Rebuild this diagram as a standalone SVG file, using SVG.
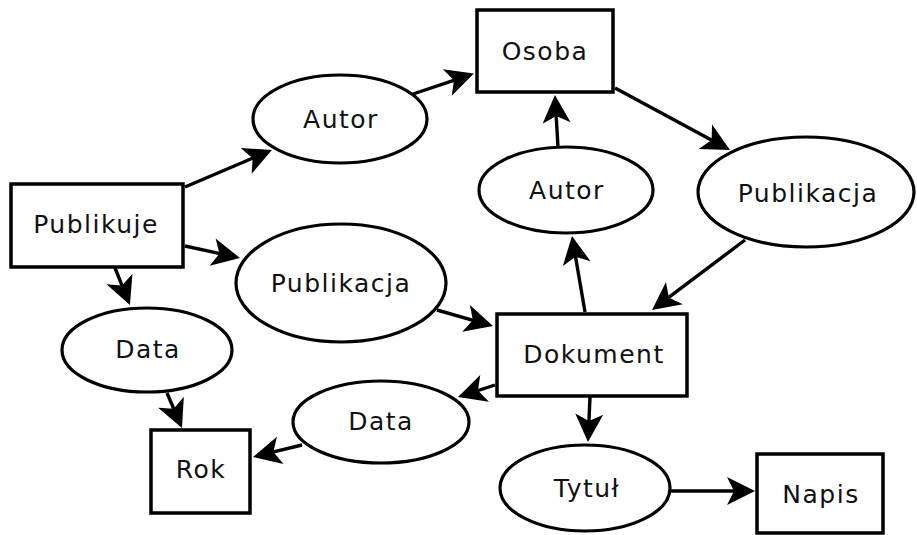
<svg xmlns="http://www.w3.org/2000/svg" width="917" height="535" viewBox="0 0 917 535">
<style>
.box{fill:#fff;stroke:#000;stroke-width:3.5}
.ell{fill:#fff;stroke:#000;stroke-width:3.2}
.lbl{font-family:"DejaVu Sans",sans-serif;font-size:25px;letter-spacing:1.5px;fill:#111;text-anchor:middle}
.edge{fill:none;stroke:#000;stroke-width:3.4;marker-end:url(#arr)}
</style>
<defs>
<marker id="arr" markerUnits="userSpaceOnUse" orient="auto" viewBox="-12 -15 32 30" refX="0" refY="0" markerWidth="32" markerHeight="30" overflow="visible">
<path d="M18,0 L-10,-14 L-3,0 L-10,14 Z" fill="#000"/>
</marker>
</defs>
<rect width="917" height="535" fill="#fff"/>
<g id="connectors">
<path class="edge" d="M185,187 L255.4,157"/>
<path class="edge" d="M413,94 L456.8,79.3"/>
<path class="edge" d="M185,246 L222.4,254.2"/>
<path class="edge" d="M115,268 L123.2,288.3"/>
<path class="edge" d="M167,393 L174.9,411.5"/>
<path class="edge" d="M437,310 L475.7,321.1"/>
<path class="edge" d="M495,385 L475.1,391.5"/>
<path class="edge" d="M585,312 L575,253.7"/>
<path class="edge" d="M558,147 L556,113"/>
<path class="edge" d="M615,88 L714.2,141.5"/>
<path class="edge" d="M745,240 L666.4,299.2"/>
<path class="edge" d="M302,445 L270.5,452.7"/>
<path class="edge" d="M590,397 L588.8,424"/>
<path class="edge" d="M671,491 L737,491"/>
</g>
<g id="publikuje"><rect class="box" x="11" y="184" width="172" height="83"/><text class="lbl" x="96" y="233">Publikuje</text></g>
<g id="autor1"><ellipse class="ell" cx="340" cy="119" rx="87" ry="44"/><text class="lbl" x="341" y="128">Autor</text></g>
<g id="osoba"><rect class="box" x="477" y="10" width="136" height="82"/><text class="lbl" x="545" y="60">Osoba</text></g>
<g id="autor2"><ellipse class="ell" cx="566" cy="190" rx="87" ry="43"/><text class="lbl" x="567" y="199">Autor</text></g>
<g id="publikacja2"><ellipse class="ell" cx="806" cy="192" rx="108" ry="55"/><text class="lbl" x="808" y="202">Publikacja</text></g>
<g id="publikacja1"><ellipse class="ell" cx="341" cy="283" rx="105" ry="59"/><text class="lbl" x="341" y="292">Publikacja</text></g>
<g id="data1"><ellipse class="ell" cx="147" cy="350" rx="85" ry="42"/><text class="lbl" x="148" y="358">Data</text></g>
<g id="data2"><ellipse class="ell" cx="381" cy="422" rx="88" ry="41"/><text class="lbl" x="381" y="430">Data</text></g>
<g id="rok"><rect class="box" x="151" y="430" width="99" height="83"/><text class="lbl" x="201" y="478">Rok</text></g>
<g id="dokument"><rect class="box" x="497" y="314" width="190" height="82"/><text class="lbl" x="594" y="363">Dokument</text></g>
<g id="tytul"><ellipse class="ell" cx="585" cy="488" rx="85" ry="43"/><text class="lbl" x="587" y="497">Tytuł</text></g>
<g id="napis"><rect class="box" x="757" y="454" width="126" height="79"/><text class="lbl" x="821" y="503">Napis</text></g>
</svg>
